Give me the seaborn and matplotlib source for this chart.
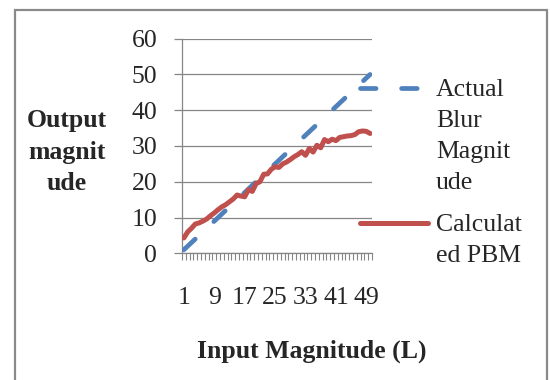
import numpy as np
import pandas as pd
import matplotlib
matplotlib.use("Agg")
import matplotlib.pyplot as plt
import seaborn as sns
from matplotlib.patches import Rectangle

# ---- data ----
input_magnitude = list(range(1, 51))
actual_blur = [1, 2, 3, 4, 5, 6, 7, 8, 9, 10,
               11, 12, 13, 14, 15, 16, 17, 18, 19, 20,
               21, 22, 23, 24, 25, 26, 27, 28, 29, 30,
               31, 32, 33, 34, 35, 36, 37, 38, 39, 40,
               41, 42, 43, 44, 45, 46, 47, 48, 49, 50]
calculated_pbm = [4.3, 6.0, 7.0, 8.2, 8.5, 9.0, 9.6, 10.5, 11.3, 12.2,
                  13.0, 13.6, 14.4, 15.2, 16.3, 16.0, 15.8, 17.8, 17.3, 19.5,
                  20.0, 22.1, 22.2, 23.5, 24.2, 24.0, 25.0, 25.5, 26.2, 27.0,
                  27.6, 28.4, 27.4, 29.3, 28.3, 30.2, 29.5, 31.8, 31.2, 31.9,
                  31.5, 32.4, 32.6, 32.8, 32.9, 33.2, 34.0, 34.2, 34.1, 33.5]
series_labels = ["Actual\nBlur\nMagnit\nude", "Calculat\ned PBM"]
x_tick_values = [1, 9, 17, 25, 33, 41, 49]
y_tick_values = [0, 10, 20, 30, 40, 50, 60]
x_title = "Input Magnitude (L)"
y_title = "Output\nmagnit\nude"

sns.set_style("white")
plt.rcParams["font.family"] = ["Liberation Serif", "DejaVu Serif"]
plt.rcParams["lines.scale_dashes"] = False

W, H = 550, 380
fig = plt.figure(figsize=(W / 100, H / 100), dpi=100)
ax_l, ax_r, ax_t, ax_b = 182, 372, 38.7, 253.3
ax = fig.add_axes([ax_l / W, 1 - ax_b / H, (ax_r - ax_l) / W, (ax_b - ax_t) / H])

BLUE = "#4F81BD"
RED = "#C0504D"
GRID = "#868686"
FS = 18.5

df = pd.DataFrame({"x": input_magnitude, "actual": actual_blur, "calc": calculated_pbm})

sns.lineplot(data=df, x="x", y="actual", ax=ax, color=BLUE, lw=3.4,
             linestyle=(0, (11.2, 18.4)), dash_capstyle="round",
             solid_capstyle="round", label=series_labels[0], zorder=3)
sns.lineplot(data=df, x="x", y="calc", ax=ax, color=RED, lw=3.6,
             solid_capstyle="round", solid_joinstyle="round",
             label=series_labels[1], zorder=4)

ax.set_xlim(0.5, 50.5)
ax.set_ylim(0, 60)
ax.set_yticks(y_tick_values)
ax.set_xticks(x_tick_values)
ax.set_xticklabels([str(v) for v in x_tick_values])
ax.set_xticks(np.arange(0.5, 51.0, 1.0), minor=True)

ax.grid(axis="y", color=GRID, lw=0.9)
ax.grid(axis="x", visible=False)
ax.set_axisbelow(True)
for s in ["top", "right"]:
    ax.spines[s].set_visible(False)
for s in ["left", "bottom"]:
    ax.spines[s].set_color(GRID)
    ax.spines[s].set_linewidth(0.9)

ax.tick_params(axis="y", which="major", direction="out", length=5.8, width=0.9,
               color=GRID, labelsize=FS, pad=12, left=True)
ax.tick_params(axis="x", which="major", length=0, labelsize=FS, pad=24, bottom=True)
ax.tick_params(axis="x", which="minor", direction="out", length=5.0, width=0.8,
               color=GRID, bottom=True)

ax.set_xlabel(x_title, fontsize=FS, fontweight="bold", va="baseline")
ax.xaxis.set_label_coords((311.7 - ax_l) / (ax_r - ax_l), (ax_b - 358) / (ax_b - ax_t))
ax.set_ylabel(y_title, fontsize=FS, fontweight="bold", rotation=0,
              ha="center", va="center", linespacing=1.5)
ax.yaxis.set_label_coords((66.5 - ax_l) / (ax_r - ax_l), (ax_b - 152) / (ax_b - ax_t))

leg = ax.legend(loc="upper left", bbox_to_anchor=(359.5 / W, 1 - 79 / H),
                bbox_transform=fig.transFigure, frameon=False, fontsize=FS,
                handlelength=2.65, handletextpad=0.33, labelspacing=0.78,
                borderpad=0, borderaxespad=0)
for t in leg.get_texts():
    t.set_linespacing(1.53)
try:
    for col in leg._legend_handle_box.get_children():
        for item in col.get_children():
            item.align = "top"
except Exception:
    pass

fig.add_artist(Rectangle((14.5 / W, -0.05), (546.5 - 14.5) / W, 1.05 - 10 / H,
                         transform=fig.transFigure, fill=False,
                         edgecolor="#8a8a8a", lw=1.6))

fig.savefig("out.png", dpi=100)
